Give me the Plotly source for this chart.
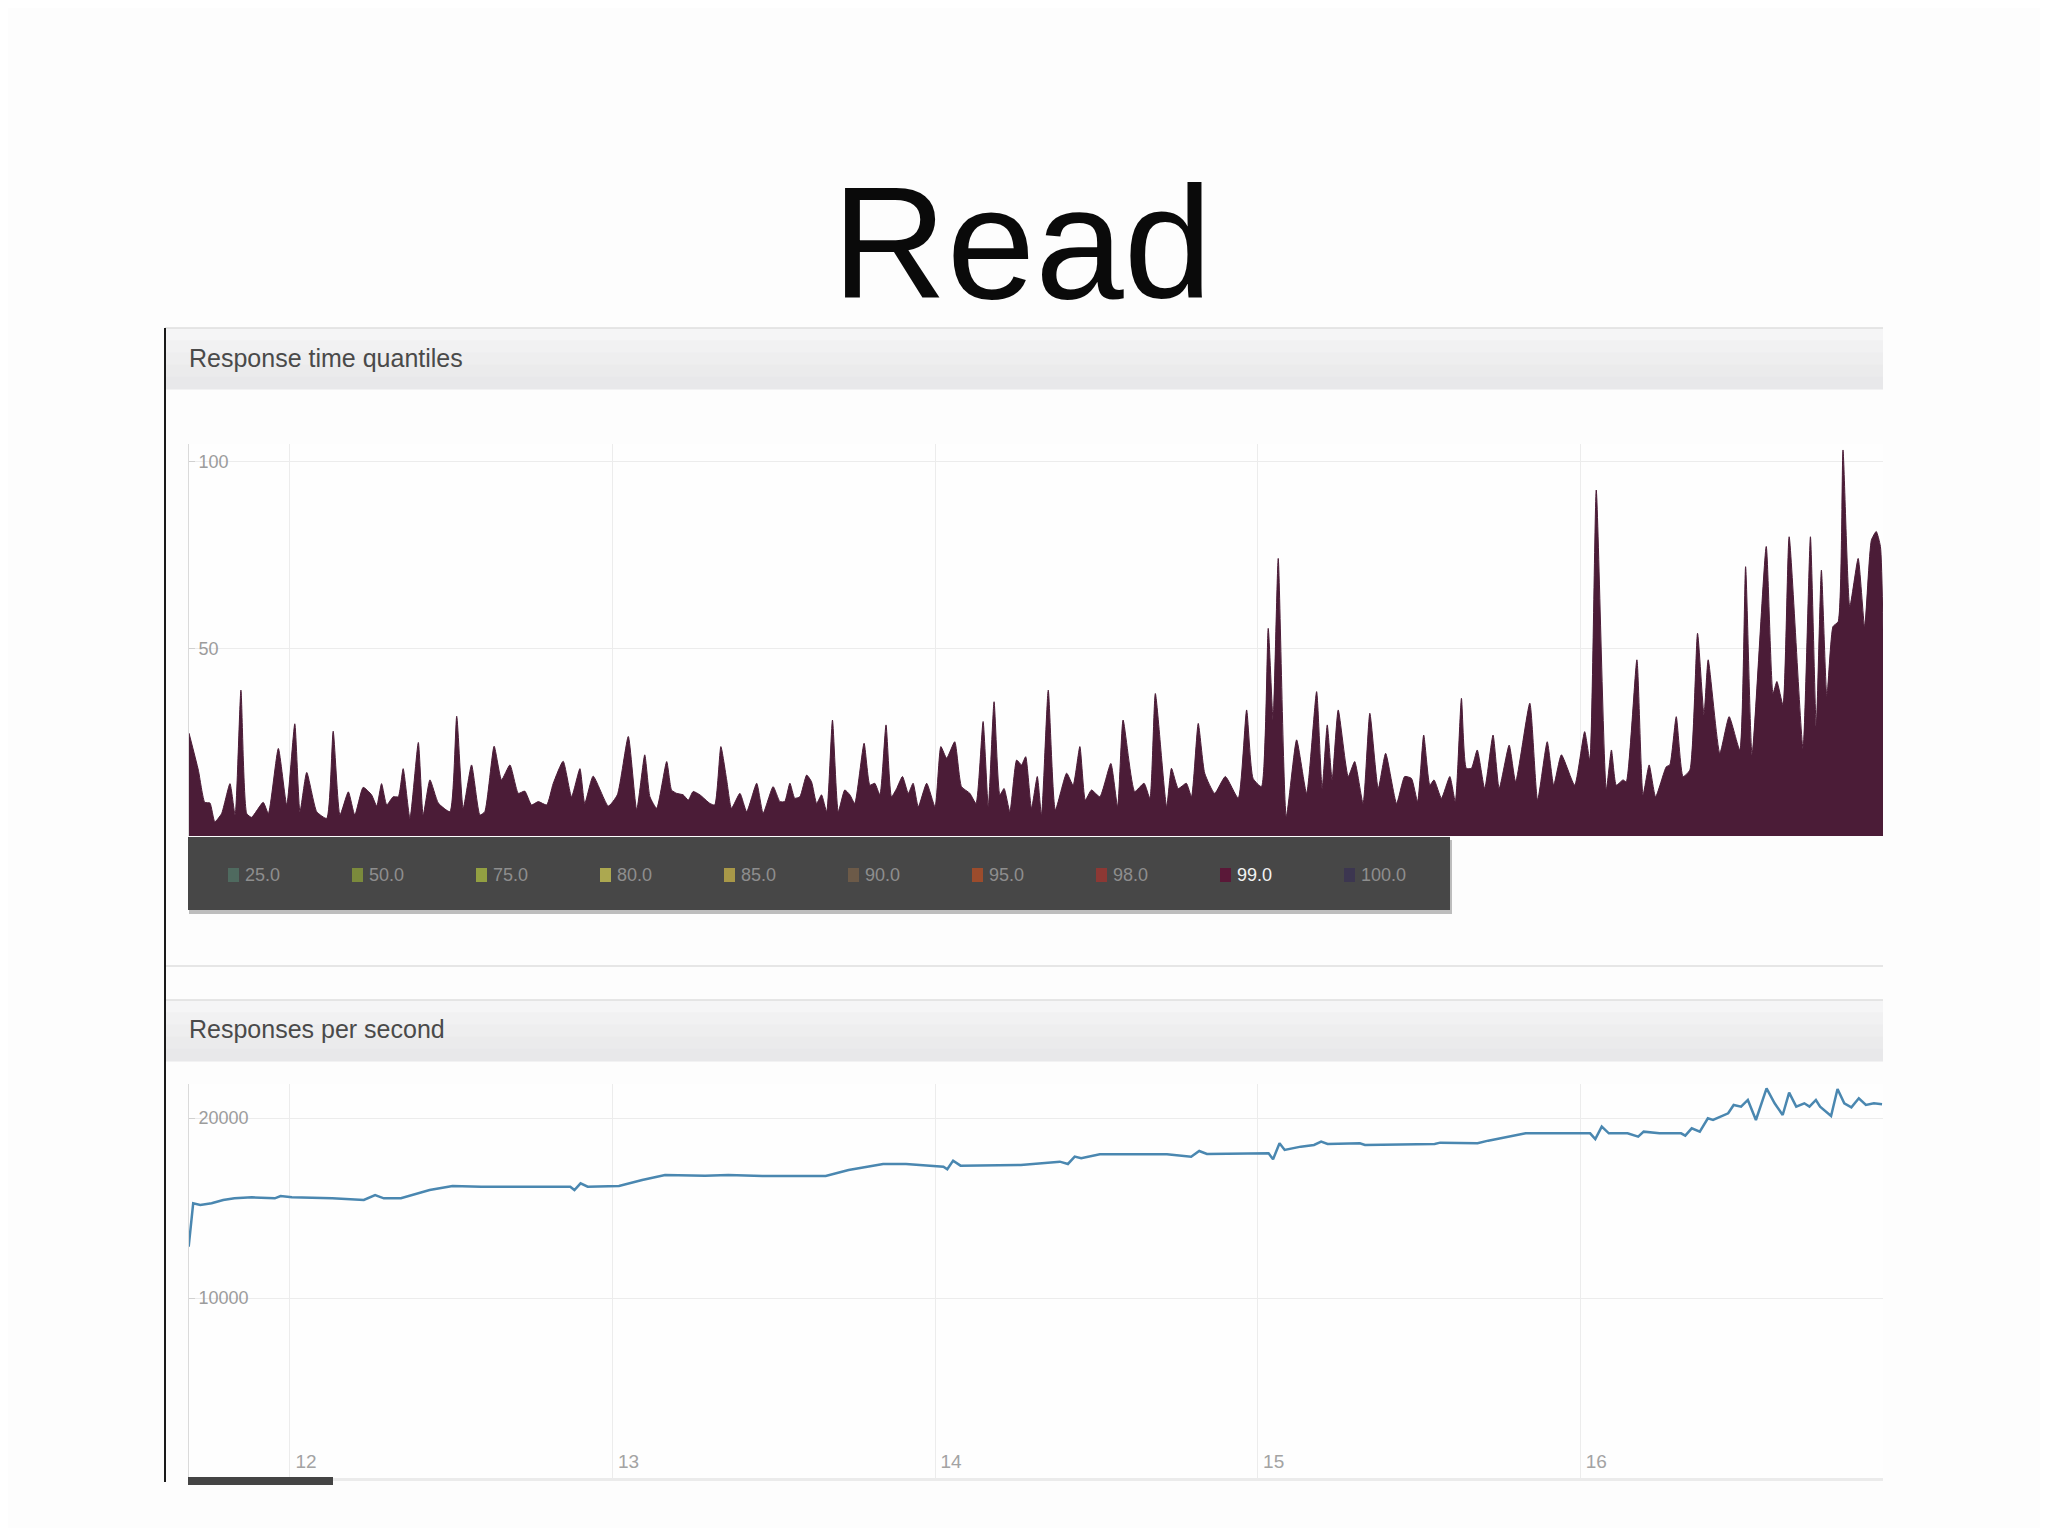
import plotly.graph_objects as go

# page offset (default body margin of the html page) is compensated below
OFF = 8
W, H = 2048 - 2 * OFF, 1536 - 2 * OFF

# ---------------- data ----------------
# Response time quantiles, 99.0 quantile series (time, value)
q99_t = [11.687, 11.716, 11.736, 11.752, 11.767, 11.788, 11.814, 11.830, 11.848, 11.866,
         11.881, 11.917, 11.933, 11.964, 11.990, 12.015, 12.031, 12.052, 12.083, 12.114,
         12.134, 12.155, 12.181, 12.201, 12.227, 12.253, 12.269, 12.284, 12.300, 12.320,
         12.336, 12.351, 12.372, 12.398, 12.413, 12.434, 12.460, 12.496, 12.517, 12.537,
         12.563, 12.589, 12.604, 12.633, 12.656, 12.682, 12.708, 12.728, 12.749, 12.770,
         12.796, 12.816, 12.847, 12.873, 12.899, 12.914, 12.940, 12.987,
         13.015, 13.049, 13.075, 13.100, 13.116, 13.137, 13.168, 13.183, 13.199, 13.219,
         13.235, 13.250, 13.271, 13.302, 13.317, 13.336, 13.354, 13.369, 13.395, 13.416,
         13.447, 13.467, 13.498, 13.519, 13.534, 13.550, 13.565, 13.581, 13.602, 13.617,
         13.633, 13.648, 13.664, 13.682, 13.700, 13.720, 13.736, 13.751, 13.780, 13.798,
         13.813, 13.829, 13.848, 13.865, 13.881, 13.899, 13.917, 13.932, 13.948, 13.974,
         14.000, 14.018, 14.036, 14.061, 14.082, 14.108, 14.127, 14.149, 14.165, 14.183,
         14.201, 14.214, 14.232, 14.253, 14.268, 14.281, 14.299, 14.317,
         14.330, 14.351, 14.373, 14.408, 14.428, 14.449, 14.466, 14.485, 14.511, 14.545,
         14.566, 14.583, 14.619, 14.648, 14.666, 14.683, 14.718, 14.733, 14.754, 14.779,
         14.795, 14.816, 14.836, 14.867, 14.900, 14.940, 14.966, 14.986, 15.012, 15.033,
         15.048, 15.064, 15.089, 15.121, 15.152, 15.183, 15.200, 15.216, 15.231, 15.250,
         15.281, 15.301, 15.327, 15.348, 15.374, 15.397, 15.431, 15.456, 15.477, 15.496,
         15.515, 15.534, 15.547, 15.570, 15.596, 15.613, 15.632,
         15.647, 15.663, 15.681, 15.704, 15.730, 15.749, 15.780, 15.800, 15.844, 15.868,
         15.898, 15.918, 15.942, 15.983, 16.014, 16.030, 16.050, 16.081, 16.097, 16.112,
         16.133, 16.143, 16.176, 16.195, 16.214, 16.234, 16.267, 16.278, 16.298, 16.319,
         16.340, 16.364, 16.384, 16.397, 16.433, 16.462, 16.495, 16.513, 16.533, 16.577,
         16.598, 16.610, 16.629, 16.648, 16.691, 16.714, 16.732, 16.748, 16.765, 16.784,
         16.800, 16.815, 16.836, 16.862, 16.882, 16.903, 16.918, 16.931, 16.939]
q99_ms = [27.5, 17.6, 9.0, 8.8, 3.8, 6.0, 14.0, 5.6, 39.0, 6.0,
          5.0, 9.0, 6.0, 23.4, 8.3, 30.0, 6.5, 17.0, 6.5, 4.7,
          28.0, 5.6, 11.8, 5.6, 13.0, 11.0, 8.0, 14.0, 8.3, 10.5,
          10.5, 18.0, 4.7, 25.0, 5.6, 15.0, 8.8, 6.5, 32.0, 7.4,
          19.0, 5.6, 6.5, 24.0, 15.0, 19.0, 11.4, 12.0, 8.3, 9.2,
          8.3, 14.0, 20.0, 10.5, 18.0, 8.7, 16.0, 8.0,
          11.0, 26.6, 7.0, 21.7, 10.5, 7.4, 19.9, 12.3, 11.4, 11.0,
          9.6, 11.9, 11.0, 8.7, 8.3, 23.9, 15.0, 7.4, 11.4, 6.5,
          14.1, 6.1, 13.2, 9.2, 9.2, 14.1, 10.1, 10.5, 16.3, 14.5,
          8.7, 11.0, 6.5, 31.0, 6.5, 12.3, 11.0, 8.7, 24.8, 13.6,
          14.1, 11.0, 29.7, 10.5, 12.7, 15.9, 11.4, 14.1, 7.8, 14.1,
          7.8, 23.9, 20.8, 25.2, 13.2, 11.4, 8.7, 30.6, 7.8, 35.9,
          11.0, 12.7, 6.5, 20.3, 19.0, 21.2, 7.4, 15.9,
          5.6, 39.0, 7.0, 16.8, 13.6, 23.9, 9.6, 12.3, 10.5, 19.4,
          7.8, 31.0, 11.9, 14.1, 10.1, 38.1, 7.8, 18.1, 12.7, 14.1,
          10.5, 30.1, 16.8, 11.4, 15.9, 10.1, 33.7, 15.4, 13.2, 55.5,
          31.0, 74.2, 5.2, 25.7, 11.4, 38.6, 12.7, 29.7, 15.0, 33.7,
          15.9, 19.9, 8.7, 32.8, 12.7, 22.1, 8.7, 15.9, 15.4, 9.2,
          27.0, 13.6, 15.0, 10.1, 15.9, 9.2, 36.8,
          18.1, 18.1, 23.0, 12.7, 27.0, 12.7, 24.3, 14.5, 35.5, 9.6,
          25.2, 13.6, 21.7, 13.6, 27.9, 20.3, 92.5, 12.3, 23.0, 13.6,
          15.0, 14.5, 47.1, 11.0, 19.0, 10.5, 18.5, 19.0, 31.9, 15.9,
          17.6, 54.2, 32.4, 47.1, 22.1, 31.9, 23.0, 72.0, 21.7, 77.4,
          38.1, 41.3, 35.0, 80.0, 23.4, 80.0, 29.2, 71.1, 37.3, 56.0,
          57.3, 103.2, 61.3, 74.2, 56.0, 79.1, 81.4, 77.4, 55.0]

# Responses per second (time, value)
rps_t = [11.686, 11.700, 11.722, 11.757, 11.793, 11.828, 11.882, 11.953, 11.971, 12.006,
         12.131, 12.229, 12.264, 12.291, 12.344, 12.380, 12.433, 12.504, 12.593, 12.754,
         12.869, 12.882, 12.901, 12.923, 13.020, 13.092, 13.163, 13.287, 13.359, 13.465,
         13.661, 13.732, 13.839, 13.910, 14.026, 14.038, 14.056, 14.079, 14.159, 14.266,
         14.387, 14.412, 14.433, 14.453, 14.511, 14.603, 14.719, 14.794, 14.819, 14.843,
         14.935, 15.034, 15.048, 15.068, 15.084, 15.134, 15.175, 15.197, 15.217, 15.317,
         15.333, 15.466, 15.549, 15.566, 15.682, 15.715, 15.781, 15.831, 15.931, 16.031,
         16.047, 16.067, 16.089, 16.147, 16.180, 16.197, 16.246, 16.313, 16.326, 16.346,
         16.371, 16.396, 16.412, 16.437, 16.459, 16.476, 16.499, 16.520, 16.545, 16.578,
         16.603, 16.628, 16.648, 16.670, 16.695, 16.711, 16.731, 16.744, 16.778, 16.798,
         16.819, 16.841, 16.864, 16.886, 16.911, 16.936]
rps_val = [12853, 15260, 15168, 15260, 15445, 15538, 15594, 15538, 15668, 15594,
           15538, 15445, 15723, 15538, 15538, 15723, 16001, 16224, 16186, 16186,
           16186, 16001, 16372, 16186, 16224, 16557, 16835, 16798, 16835, 16779,
           16779, 17112, 17446, 17446, 17298, 17150, 17631, 17353, 17353, 17390,
           17575, 17446, 17853, 17761, 17983, 17983, 17983, 17853, 18168, 18001,
           18001, 18038, 17705, 18594, 18224, 18409, 18501, 18687, 18557, 18594,
           18501, 18557, 18557, 18631, 18594, 18742, 18964, 19150, 19150, 19150,
           18835, 19520, 19150, 19150, 18964, 19242, 19150, 19150, 19020, 19427,
           19242, 19983, 19890, 20076, 20261, 20724, 20631, 21002, 19890, 21650,
           20816, 20168, 21409, 20631, 20816, 20631, 21002, 20631, 20113, 21613,
           20816, 20594, 21094, 20724, 20816, 20761]

x_ticks = [12, 13, 14, 15, 16]
q_ticks = [0, 50, 100]
rps_ticks = [0, 10000, 20000]

quantile_labels = ["25.0", "50.0", "75.0", "80.0", "85.0", "90.0", "95.0", "98.0", "99.0", "100.0"]
quantile_colors = ["#4f6a5f", "#7b8a3c", "#93a042", "#aca850", "#a89848",
                   "#6c5a48", "#9c4c2c", "#8c3834", "#5a1838", "#3c3650"]
active_quantile = "99.0"

AREA = "#4b1c37"
LINE = "#4a87b0"
FONT = "Liberation Sans"


def fx(p):
    return (p - OFF) / W


def fy(p):
    return 1 - (p - OFF) / H


fig = go.Figure()
fig.add_trace(go.Scatter(
    x=q99_t, y=q99_ms, mode="lines", fill="tozeroy", fillcolor=AREA,
    line=dict(color=AREA, width=1, shape="spline", smoothing=0.5),
    xaxis="x", yaxis="y", showlegend=False, hoverinfo="skip", name="99.0"))
fig.add_trace(go.Scatter(
    x=rps_t, y=rps_val, mode="lines", line=dict(color=LINE, width=2.5),
    xaxis="x2", yaxis="y2", showlegend=False, hoverinfo="skip", name="rps"))

XR = [11.687, 16.939]
grid = "#ececec"
tick_font = dict(family=FONT, size=18, color="#9c9c9c")

shapes = []
annotations = []


def header(y0, y1):
    bands = ["#f5f5f6", "#f1f1f2", "#eeeeef", "#ebebec", "#e8e8ea"]
    n = len(bands)
    h = (y1 - y0) / n
    for i, c in enumerate(bands):
        shapes.append(dict(type="rect", xref="paper", yref="paper",
                           x0=fx(165), x1=fx(1883), y0=fy(y0 + i * h), y1=fy(y0 + (i + 1) * h + 0.5),
                           fillcolor=c, line=dict(width=0), layer="below"))
    shapes.append(dict(type="line", xref="paper", yref="paper", x0=fx(165), x1=fx(1883),
                       y0=fy(y0), y1=fy(y0), line=dict(color="#dedede", width=1.5)))


header(328, 389)
header(1000, 1061)
shapes.append(dict(type="line", xref="paper", yref="paper", x0=fx(165), x1=fx(1883),
                   y0=fy(966), y1=fy(966), line=dict(color="#e6e6e6", width=2)))
# left frame line
shapes.append(dict(type="line", xref="paper", yref="paper", x0=fx(165), x1=fx(165),
                   y0=fy(328), y1=fy(1482), line=dict(color="#1a1a1a", width=2)))

# legend box
shapes.append(dict(type="rect", xref="paper", yref="paper", x0=fx(189), x1=fx(1452),
                   y0=fy(840), y1=fy(914), fillcolor="#bdbdbd", line=dict(width=0)))
shapes.append(dict(type="rect", xref="paper", yref="paper", x0=fx(188), x1=fx(1450),
                   y0=fy(837), y1=fy(910), fillcolor="#474747", line=dict(width=0)))
L0, STEP, CY = 228, 124, 875
for i, (lab, col) in enumerate(zip(quantile_labels, quantile_colors)):
    sx = L0 + i * STEP
    shapes.append(dict(type="rect", xref="paper", yref="paper", x0=fx(sx), x1=fx(sx + 11),
                       y0=fy(CY - 7), y1=fy(CY + 7), fillcolor=col, line=dict(width=0)))
    annotations.append(dict(text=lab, xref="paper", yref="paper", x=fx(sx + 15), y=fy(CY),
                            xanchor="left", yanchor="middle", showarrow=False,
                            font=dict(family=FONT, size=18,
                                      color="#f2f2f2" if lab == active_quantile else "#8e8e8e")))

# dark bar at bottom of the second panel
shapes.append(dict(type="rect", xref="paper", yref="paper", x0=fx(188), x1=fx(333),
                   y0=fy(1477), y1=fy(1485), fillcolor="#444444", line=dict(width=0)))

# title and panel headings
annotations.append(dict(text="Read", xref="paper", yref="paper", x=fx(1022), y=fy(243),
                        xanchor="center", yanchor="middle", showarrow=False,
                        font=dict(family=FONT, size=159, color="#0a0a0a")))
annotations.append(dict(text="Response time quantiles", xref="paper", yref="paper",
                        x=fx(187), y=fy(358), xanchor="left", yanchor="middle", showarrow=False,
                        font=dict(family=FONT, size=25, color="#4a4a4a")))
annotations.append(dict(text="Responses per second", xref="paper", yref="paper",
                        x=fx(187), y=fy(1029), xanchor="left", yanchor="middle", showarrow=False,
                        font=dict(family=FONT, size=25, color="#4a4a4a")))

fig.update_layout(
    width=W, height=H, margin=dict(l=0, r=0, t=0, b=0),
    paper_bgcolor="#fdfdfd", plot_bgcolor="#fefefe",
    showlegend=False,
    xaxis=dict(domain=[fx(189), fx(1883)], range=XR, anchor="y", tickvals=x_ticks,
               showticklabels=False, showgrid=True, gridcolor=grid, zeroline=False,
               showline=False),
    yaxis=dict(domain=[fy(836), fy(444)], range=[0, 104.8], anchor="x", tickvals=q_ticks,
               ticks="inside", ticklen=6, tickcolor="#d0d0d0", ticklabelposition="inside",
               ticklabelstandoff=4,
               tickfont=tick_font, showline=True, linecolor="#dadada", linewidth=1,
               showgrid=True, gridcolor=grid, zeroline=False, layer="below traces"),
    xaxis2=dict(domain=[fx(189), fx(1883)], range=XR, anchor="y2", tickvals=x_ticks,
                ticklabelposition="inside right", ticklabelstandoff=4, ticklabelshift=4,
                tickfont=dict(family=FONT, size=19, color="#a3a3a3"),
                showgrid=True, gridcolor=grid, zeroline=False, showline=True,
                linecolor="#ebebeb", linewidth=3),
    yaxis2=dict(domain=[fy(1478), fy(1084)], range=[0, 21889], anchor="x2", tickvals=rps_ticks,
                tickformat="d", ticks="inside", ticklen=6, tickcolor="#d0d0d0",
                ticklabelposition="inside", ticklabelstandoff=4, tickfont=tick_font, showline=True,
                linecolor="#dadada", linewidth=1, showgrid=True, gridcolor=grid, zeroline=False),
    shapes=shapes,
    annotations=annotations,
)

fig.write_html("out.html")
